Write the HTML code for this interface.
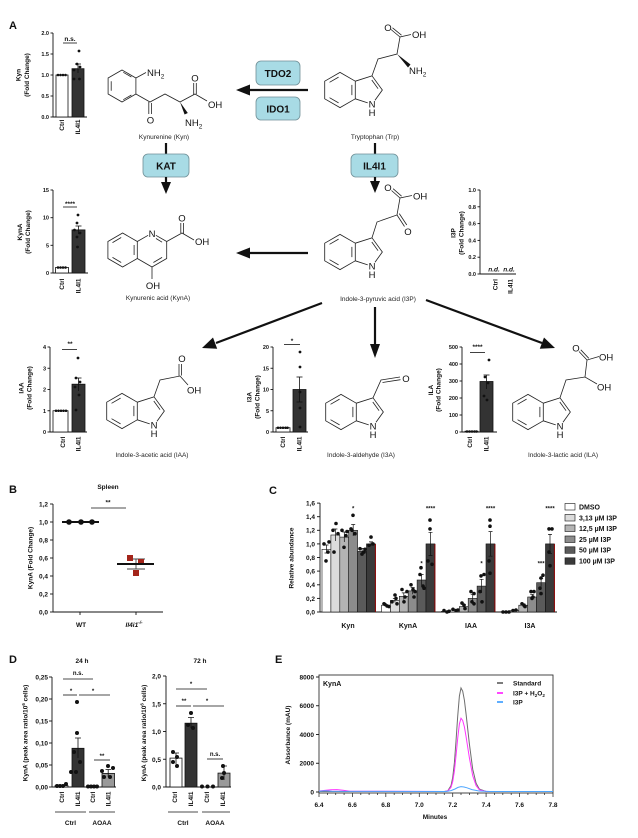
<!DOCTYPE html>
<html><head><meta charset="utf-8"><style>
html,body{margin:0;padding:0;background:#fff;}
svg{display:block;}
text{font-family:"Liberation Sans",Arial,sans-serif;fill:#111;}
.b{font-weight:bold;}
.ax{stroke:#111;stroke-width:0.9;fill:none;}
.tk{font-size:5.5px;font-weight:bold;text-anchor:end;}
.lab{font-size:6.5px;font-weight:bold;text-anchor:middle;}
.xl{font-size:6.5px;font-weight:bold;text-anchor:end;}
.atom{font-size:9.5px;text-anchor:middle;}
.cname{font-size:6.5px;text-anchor:middle;fill:#222;}
.enz{font-size:10px;font-weight:bold;text-anchor:middle;}
.box{fill:#a8dbe5;stroke:#708f96;stroke-width:0.8;}
.bd{stroke:#222;stroke-width:0.8;fill:none;}
.arr{stroke:#111;stroke-width:2.2;}
</style></head><body>
<svg width="638" height="838" viewBox="0 0 638 838" xmlns="http://www.w3.org/2000/svg">
<defs>
<g id="indole" fill="none" stroke="#222" stroke-width="0.75">
<path d="M13.9,-8 L0,-16 L-13.9,-8 L-13.9,8 L0,16 L13.9,8 Z M13.9,-8 L29.1,-12.9 L38.5,0 L31.8,9.3 M13.9,8 L25.2,11.7 M-1.3,-11.7 L-9.5,-7 M-9.5,7 L-1.3,11.7 M10.8,4.7 L10.8,-4.7 M28.9,-9.1 L34.6,-1.2"/>
</g>
</defs>

<!-- ============ PANEL A ============ -->
<text x="9" y="29" class="b" font-size="11">A</text>

<!-- Kyn chart -->
<g>
<line class="ax" x1="53" y1="33" x2="53" y2="117"/><line class="ax" x1="53" y1="117" x2="87" y2="117"/>
<g class="ax"><line x1="50.5" y1="33" x2="53" y2="33"/><line x1="50.5" y1="54" x2="53" y2="54"/><line x1="50.5" y1="75" x2="53" y2="75"/><line x1="50.5" y1="96" x2="53" y2="96"/><line x1="50.5" y1="117" x2="53" y2="117"/></g>
<text class="tk" x="49" y="35">2.0</text><text class="tk" x="49" y="56">1.5</text><text class="tk" x="49" y="77">1.0</text><text class="tk" x="49" y="98">0.5</text><text class="tk" x="49" y="119">0.0</text>
<rect x="56" y="75" width="12" height="42" fill="#fff" stroke="#111" stroke-width="0.8"/>
<rect x="72" y="68.7" width="12" height="48.3" fill="#333" stroke="#111" stroke-width="0.8"/>
<g stroke="#111" stroke-width="0.8"><line x1="78" y1="64" x2="78" y2="73"/><line x1="75" y1="64" x2="81" y2="64"/></g>
<g fill="#111"><circle cx="58" cy="75" r="1.3"/><circle cx="60.5" cy="75" r="1.3"/><circle cx="63" cy="75" r="1.3"/><circle cx="65.5" cy="75" r="1.3"/>
<circle cx="79" cy="51" r="1.4"/><circle cx="77" cy="64" r="1.4"/><circle cx="74" cy="70" r="1.4"/><circle cx="80" cy="67" r="1.4"/><circle cx="74" cy="79" r="1.4"/><circle cx="79.5" cy="79" r="1.4"/></g>
<text x="70" y="41" class="lab" font-size="5.5">n.s.</text><line x1="63" y1="43" x2="77" y2="43" stroke="#111" stroke-width="0.8"/>
<text transform="translate(20.5,75) rotate(-90)" class="lab">Kyn</text>
<text transform="translate(29,75) rotate(-90)" class="lab">(Fold Change)</text>
<text transform="translate(64,119.5) rotate(-90)" class="xl">Ctrl</text>
<text transform="translate(80,119.5) rotate(-90)" class="xl">IL4I1</text>
</g>

<!-- Kynurenine structure -->
<g class="bd">
<path d="M135.9,78 L122,70 L108.1,78 L108.1,94 L122,102 L135.9,94 Z"/>
<path d="M131.4,77 L123.3,72.3 M111.2,81.3 L111.2,90.7 M123.3,99.7 L131.4,95"/>
<path d="M135.9,78 L146,72.5"/>
<path d="M135.9,94 L150,102 L165,94 L180,102 L195,94 L207,101"/>
<path d="M148.8,102 L148.8,114 M151.4,103 L151.4,114"/>
<path d="M193.7,95 L193.7,83 M196.3,94 L196.3,83"/>
</g>
<polygon points="180,102 184.6,114.5 187.8,113" fill="#111"/>
<text class="atom" x="147" y="76" style="text-anchor:start">NH<tspan font-size="6.5" dy="2.5">2</tspan></text>
<text class="atom" x="150.5" y="123.5">O</text>
<text class="atom" x="195" y="81.5">O</text>
<text class="atom" x="208" y="108" style="text-anchor:start">OH</text>
<text class="atom" x="185" y="126" style="text-anchor:start">NH<tspan font-size="6.5" dy="2.5">2</tspan></text>
<text class="cname" x="164" y="139">Kynurenine (Kyn)</text>

<!-- Top arrow & enzymes -->
<line class="arr" x1="308" y1="90" x2="248" y2="90"/>
<polygon points="236,90 250,84.5 250,95.5" fill="#111"/>
<rect class="box" x="256" y="61" width="44" height="24" rx="5"/>
<text class="enz" x="278" y="77">TDO2</text>
<rect class="box" x="256" y="97" width="44" height="23" rx="5"/>
<text class="enz" x="278" y="112.5">IDO1</text>

<!-- Tryptophan -->
<use href="#indole" transform="translate(340,90) scale(1.1)"/>
<text class="atom" x="372" y="107.5">N</text><text class="atom" x="372" y="116">H</text>
<g class="bd">
<path d="M372,75.8 L378,59 L397,54 L400,37 L411,34.5"/>
<path d="M400,37 L391,29.5 M401.5,35.2 L392.5,27.8"/>
</g>
<polygon points="397,54 408,67.5 410.5,64.5" fill="#111"/>
<text class="atom" x="388" y="31">O</text>
<text class="atom" x="412" y="38" style="text-anchor:start">OH</text>
<text class="atom" x="409" y="74" style="text-anchor:start">NH<tspan font-size="6.5" dy="2.5">2</tspan></text>
<text class="cname" x="375" y="139">Tryptophan (Trp)</text>

<!-- vertical links -->
<line class="arr" x1="166" y1="143" x2="166" y2="154"/>
<line class="arr" x1="375" y1="143" x2="375" y2="154"/>
<rect class="box" x="143" y="154" width="46" height="23" rx="5"/>
<text class="enz" x="166" y="169.5">KAT</text>
<rect class="box" x="351" y="154" width="47" height="23" rx="5"/>
<text class="enz" x="374.5" y="169.5">IL4I1</text>
<line class="arr" x1="166" y1="177" x2="166" y2="184"/>
<polygon points="166,194 161,182 171,182" fill="#111"/>
<line class="arr" x1="375" y1="177" x2="375" y2="183"/>
<polygon points="375,193 370,181 380,181" fill="#111"/>

<!-- KynA chart -->
<g>
<line class="ax" x1="53" y1="190" x2="53" y2="273"/><line class="ax" x1="53" y1="273" x2="88" y2="273"/>
<g class="ax"><line x1="50.5" y1="190" x2="53" y2="190"/><line x1="50.5" y1="217.7" x2="53" y2="217.7"/><line x1="50.5" y1="245.3" x2="53" y2="245.3"/><line x1="50.5" y1="273" x2="53" y2="273"/></g>
<text class="tk" x="49" y="192">15</text><text class="tk" x="49" y="219.7">10</text><text class="tk" x="49" y="247.3">5</text><text class="tk" x="49" y="275">0</text>
<rect x="55.5" y="267.5" width="13" height="5.5" fill="#fff" stroke="#111" stroke-width="0.8"/>
<rect x="72" y="229.9" width="13" height="43.1" fill="#333" stroke="#111" stroke-width="0.8"/>
<g stroke="#111" stroke-width="0.8"><line x1="78.5" y1="226" x2="78.5" y2="234"/><line x1="75.5" y1="226" x2="81.5" y2="226"/></g>
<g fill="#111"><circle cx="58" cy="267.5" r="1.3"/><circle cx="60.5" cy="267.5" r="1.3"/><circle cx="63" cy="267.5" r="1.3"/><circle cx="65.5" cy="267.5" r="1.3"/>
<circle cx="78" cy="215" r="1.4"/><circle cx="77" cy="223" r="1.4"/><circle cx="74.5" cy="230" r="1.4"/><circle cx="80" cy="233" r="1.4"/><circle cx="77" cy="237" r="1.4"/><circle cx="77.5" cy="247" r="1.4"/></g>
<text x="70" y="206" class="lab" font-size="5.5">****</text><line x1="63" y1="207" x2="77" y2="207" stroke="#111" stroke-width="0.8"/>
<text transform="translate(22,232) rotate(-90)" class="lab">KynA</text>
<text transform="translate(30,232) rotate(-90)" class="lab">(Fold Change)</text>
<text transform="translate(64,278.5) rotate(-90)" class="xl">Ctrl</text>
<text transform="translate(80.5,278.5) rotate(-90)" class="xl">IL4I1</text>
</g>

<!-- Kynurenic acid structure -->
<g class="bd">
<path d="M137.3,241.5 L122.6,233 L107.9,241.5 L107.9,258.5 L122.6,267 L137.3,258.5 Z"/>
<path d="M137.3,258.5 L152,267 L166.7,258.5 L166.7,241.5 L155.9,235.3 M137.3,241.5 L148.1,235.3"/>
<path d="M112.5,242.6 L121.2,237.5 M112.5,257.4 L121.2,262.5 M134.1,255 L134.1,245 M156,238.5 L162.1,242.2 M162.1,257.4 L153.4,262.5"/>
<path d="M166.7,241.5 L182,233 L194,240"/>
<path d="M180.8,233 L180.8,223 M183.4,234 L183.4,223"/>
<path d="M152,267 L152,279"/>
</g>
<text class="atom" x="152" y="237">N</text>
<text class="atom" x="182" y="221.5">O</text>
<text class="atom" x="195" y="245" style="text-anchor:start">OH</text>
<text class="atom" x="153" y="289">OH</text>
<text class="cname" x="158" y="300">Kynurenic acid (KynA)</text>

<line class="arr" x1="308" y1="253" x2="248" y2="253"/>
<polygon points="236,253 250,247.5 250,258.5" fill="#111"/>

<!-- I3P structure -->
<use href="#indole" transform="translate(340,252) scale(1.1)"/>
<text class="atom" x="372" y="269.5">N</text><text class="atom" x="372" y="278">H</text>
<g class="bd">
<path d="M372,237.8 L377,222 L397,215 L400,198 L412,195.5"/>
<path d="M397,215 L404.5,226.5 M399.3,213.6 L406.8,225"/>
<path d="M400,198 L391.5,190.5 M401.6,196.2 L393.1,188.7"/>
</g>
<text class="atom" x="408" y="235">O</text>
<text class="atom" x="388" y="191">O</text>
<text class="atom" x="413" y="199.5" style="text-anchor:start">OH</text>
<text class="cname" x="378" y="301">Indole-3-pyruvic acid (I3P)</text>

<!-- I3P chart -->
<g>
<line class="ax" x1="480" y1="190" x2="480" y2="274"/><line class="ax" x1="480" y1="274" x2="516" y2="274"/>
<g class="ax"><line x1="477.5" y1="190" x2="480" y2="190"/><line x1="477.5" y1="206.8" x2="480" y2="206.8"/><line x1="477.5" y1="223.6" x2="480" y2="223.6"/><line x1="477.5" y1="240.4" x2="480" y2="240.4"/><line x1="477.5" y1="257.2" x2="480" y2="257.2"/><line x1="477.5" y1="274" x2="480" y2="274"/></g>
<text class="tk" x="476" y="192">1.0</text><text class="tk" x="476" y="208.8">0.8</text><text class="tk" x="476" y="225.6">0.6</text><text class="tk" x="476" y="242.4">0.4</text><text class="tk" x="476" y="259.2">0.2</text><text class="tk" x="476" y="276">0.0</text>
<text x="494" y="271.5" class="lab" font-size="5" font-style="italic">n.d.</text>
<text x="509" y="271.5" class="lab" font-size="5" font-style="italic">n.d.</text>
<text transform="translate(455.5,233) rotate(-90)" class="lab">I3P</text>
<text transform="translate(463.5,233) rotate(-90)" class="lab">(Fold Change)</text>
<text transform="translate(497.5,279) rotate(-90)" class="xl">Ctrl</text>
<text transform="translate(512.5,279) rotate(-90)" class="xl">IL4I1</text>
</g>

<!-- Bottom arrows -->
<line class="arr" x1="322" y1="303" x2="216" y2="343"/>
<polygon points="202,348 217.2,348.7 213,337.5" fill="#111"/>
<line class="arr" x1="375" y1="307" x2="375" y2="345"/>
<polygon points="375,358 370,344 380,344" fill="#111"/>
<line class="arr" x1="426" y1="300" x2="542" y2="343"/>
<polygon points="555,348 539.8,348.7 544,337.5" fill="#111"/>

<!-- IAA chart -->
<g>
<line class="ax" x1="50" y1="347" x2="50" y2="432"/><line class="ax" x1="50" y1="432" x2="87" y2="432"/>
<g class="ax"><line x1="47.5" y1="347" x2="50" y2="347"/><line x1="47.5" y1="368.25" x2="50" y2="368.25"/><line x1="47.5" y1="389.5" x2="50" y2="389.5"/><line x1="47.5" y1="410.75" x2="50" y2="410.75"/><line x1="47.5" y1="432" x2="50" y2="432"/></g>
<text class="tk" x="46" y="349">4</text><text class="tk" x="46" y="370.25">3</text><text class="tk" x="46" y="391.5">2</text><text class="tk" x="46" y="412.75">1</text><text class="tk" x="46" y="434">0</text>
<rect x="53" y="410.75" width="15" height="21.25" fill="#fff" stroke="#111" stroke-width="0.8"/>
<rect x="72" y="384.2" width="13" height="47.8" fill="#333" stroke="#111" stroke-width="0.8"/>
<g stroke="#111" stroke-width="0.8"><line x1="78.5" y1="378" x2="78.5" y2="391"/><line x1="75.5" y1="378" x2="81.5" y2="378"/></g>
<g fill="#111"><circle cx="56" cy="410.75" r="1.3"/><circle cx="58.5" cy="410.75" r="1.3"/><circle cx="61" cy="410.75" r="1.3"/><circle cx="63.5" cy="410.75" r="1.3"/><circle cx="66" cy="410.75" r="1.3"/>
<circle cx="78" cy="358" r="1.4"/><circle cx="76" cy="378" r="1.4"/><circle cx="80" cy="382" r="1.4"/><circle cx="75" cy="387" r="1.4"/><circle cx="79" cy="395" r="1.4"/><circle cx="76" cy="410" r="1.4"/></g>
<text x="70" y="346" class="lab" font-size="5.5">**</text><line x1="62" y1="349.5" x2="77" y2="349.5" stroke="#111" stroke-width="0.8"/>
<text transform="translate(23.5,388) rotate(-90)" class="lab">IAA</text>
<text transform="translate(31.5,388) rotate(-90)" class="lab">(Fold Change)</text>
<text transform="translate(65,436.5) rotate(-90)" class="xl">Ctrl</text>
<text transform="translate(80.5,436.5) rotate(-90)" class="xl">IL4I1</text>
</g>

<!-- IAA structure -->
<use href="#indole" transform="translate(122,411) scale(1.1)"/>
<text class="atom" x="154" y="428.5">N</text><text class="atom" x="154" y="437">H</text>
<g class="bd">
<path d="M154,396.8 L160,380 L180,376 L188,385"/>
<path d="M179,376 L179,364 M181.6,375.5 L181.6,364"/>
</g>
<text class="atom" x="182" y="362">O</text>
<text class="atom" x="187" y="393.5" style="text-anchor:start">OH</text>
<text class="cname" x="152" y="457">Indole-3-acetic acid (IAA)</text>

<!-- I3A chart -->
<g>
<line class="ax" x1="273" y1="347" x2="273" y2="432"/><line class="ax" x1="273" y1="432" x2="308" y2="432"/>
<g class="ax"><line x1="270.5" y1="347" x2="273" y2="347"/><line x1="270.5" y1="368.25" x2="273" y2="368.25"/><line x1="270.5" y1="389.5" x2="273" y2="389.5"/><line x1="270.5" y1="410.75" x2="273" y2="410.75"/><line x1="270.5" y1="432" x2="273" y2="432"/></g>
<text class="tk" x="269" y="349">20</text><text class="tk" x="269" y="370.25">15</text><text class="tk" x="269" y="391.5">10</text><text class="tk" x="269" y="412.75">5</text><text class="tk" x="269" y="434">0</text>
<rect x="276" y="427.75" width="14" height="4.25" fill="#fff" stroke="#111" stroke-width="0.8"/>
<rect x="293" y="389.5" width="13" height="42.5" fill="#333" stroke="#111" stroke-width="0.8"/>
<g stroke="#111" stroke-width="0.8"><line x1="299.5" y1="377" x2="299.5" y2="402"/><line x1="296.5" y1="377" x2="302.5" y2="377"/><line x1="296.5" y1="402" x2="302.5" y2="402"/></g>
<g fill="#111"><circle cx="278" cy="427.75" r="1.3"/><circle cx="280.5" cy="427.75" r="1.3"/><circle cx="283" cy="427.75" r="1.3"/><circle cx="285.5" cy="427.75" r="1.3"/><circle cx="287.5" cy="427.75" r="1.3"/>
<circle cx="300" cy="352" r="1.4"/><circle cx="300" cy="367" r="1.4"/><circle cx="300" cy="392" r="1.4"/><circle cx="300" cy="408" r="1.4"/><circle cx="300" cy="427" r="1.4"/></g>
<text x="292" y="343" class="lab" font-size="5.5">*</text><line x1="284" y1="344.5" x2="300" y2="344.5" stroke="#111" stroke-width="0.8"/>
<text transform="translate(251.5,397) rotate(-90)" class="lab">I3A</text>
<text transform="translate(259.5,397) rotate(-90)" class="lab">(Fold Change)</text>
<text transform="translate(285,436.5) rotate(-90)" class="xl">Ctrl</text>
<text transform="translate(301.5,436.5) rotate(-90)" class="xl">IL4I1</text>
</g>

<!-- I3A structure -->
<use href="#indole" transform="translate(341,412) scale(1.1)"/>
<text class="atom" x="373" y="429.5">N</text><text class="atom" x="373" y="438">H</text>
<g class="bd">
<path d="M373,397.8 L381,380 L400,377"/>
<path d="M382.5,382.5 L400.5,379.7"/>
</g>
<text class="atom" x="406" y="382">O</text>
<text class="cname" x="361" y="457">Indole-3-aldehyde (I3A)</text>

<!-- ILA chart -->
<g>
<line class="ax" x1="462" y1="347" x2="462" y2="432"/><line class="ax" x1="462" y1="432" x2="497" y2="432"/>
<g class="ax"><line x1="459.5" y1="347" x2="462" y2="347"/><line x1="459.5" y1="364" x2="462" y2="364"/><line x1="459.5" y1="381" x2="462" y2="381"/><line x1="459.5" y1="398" x2="462" y2="398"/><line x1="459.5" y1="415" x2="462" y2="415"/><line x1="459.5" y1="432" x2="462" y2="432"/></g>
<text class="tk" x="458" y="349">500</text><text class="tk" x="458" y="366">400</text><text class="tk" x="458" y="383">300</text><text class="tk" x="458" y="400">200</text><text class="tk" x="458" y="417">100</text><text class="tk" x="458" y="434">0</text>
<rect x="465" y="431.2" width="13" height="0.8" fill="#fff" stroke="#111" stroke-width="0.8"/>
<rect x="480" y="381.5" width="13" height="50.5" fill="#333" stroke="#111" stroke-width="0.8"/>
<g stroke="#111" stroke-width="0.8"><line x1="486.5" y1="375" x2="486.5" y2="389"/><line x1="483.5" y1="375" x2="489.5" y2="375"/></g>
<g fill="#111"><circle cx="467" cy="431.5" r="1.3"/><circle cx="469.5" cy="431.5" r="1.3"/><circle cx="472" cy="431.5" r="1.3"/><circle cx="474.5" cy="431.5" r="1.3"/><circle cx="476.5" cy="431.5" r="1.3"/>
<circle cx="489" cy="360" r="1.4"/><circle cx="485" cy="377" r="1.4"/><circle cx="488" cy="383" r="1.4"/><circle cx="484" cy="396" r="1.4"/><circle cx="487" cy="400" r="1.4"/></g>
<text x="477.5" y="349" class="lab" font-size="5.5">****</text><line x1="470" y1="352.5" x2="485" y2="352.5" stroke="#111" stroke-width="0.8"/>
<text transform="translate(433,390) rotate(-90)" class="lab">ILA</text>
<text transform="translate(440.5,390) rotate(-90)" class="lab">(Fold Change)</text>
<text transform="translate(472,436.5) rotate(-90)" class="xl">Ctrl</text>
<text transform="translate(488.5,436.5) rotate(-90)" class="xl">IL4I1</text>
</g>

<!-- ILA structure -->
<use href="#indole" transform="translate(528,412) scale(1.1)"/>
<text class="atom" x="560" y="429.5">N</text><text class="atom" x="560" y="438">H</text>
<g class="bd">
<path d="M560,397.8 L566,380 L585,377 L597,384 M585,377 L587,360 L599,356.5"/>
<path d="M587,360 L579,351.5 M588.8,358.3 L580.8,349.8"/>
</g>
<text class="atom" x="576" y="351.5">O</text>
<text class="atom" x="599" y="360.5" style="text-anchor:start">OH</text>
<text class="atom" x="597" y="390.5" style="text-anchor:start">OH</text>
<text class="cname" x="563" y="457">Indole-3-lactic acid (ILA)</text>

<!-- ============ PANEL B ============ -->
<text x="9" y="493" class="b" font-size="11">B</text>
<text x="108" y="489" class="lab" font-size="7">Spleen</text>
<g>
<line class="ax" x1="53" y1="504" x2="53" y2="612"/><line class="ax" x1="53" y1="612" x2="163" y2="612"/>
<g class="ax"><line x1="50" y1="504" x2="53" y2="504"/><line x1="50" y1="522" x2="53" y2="522"/><line x1="50" y1="540" x2="53" y2="540"/><line x1="50" y1="558" x2="53" y2="558"/><line x1="50" y1="576" x2="53" y2="576"/><line x1="50" y1="594" x2="53" y2="594"/><line x1="50" y1="612" x2="53" y2="612"/>
<line x1="80" y1="612" x2="80" y2="615"/><line x1="136" y1="612" x2="136" y2="615"/></g>
<g class="tk" style="font-size:6.5px"><text x="48" y="506.5">1,2</text><text x="48" y="524.5">1,0</text><text x="48" y="542.5">0,8</text><text x="48" y="560.5">0,6</text><text x="48" y="578.5">0,4</text><text x="48" y="596.5">0,2</text><text x="48" y="614.5">0,0</text></g>
<line x1="62" y1="522" x2="99" y2="522" stroke="#111" stroke-width="2"/>
<g fill="#111"><circle cx="69" cy="522" r="2.8"/><circle cx="81" cy="522" r="2.8"/><circle cx="92" cy="522" r="2.8"/></g>
<g stroke="#444" stroke-width="0.9"><line x1="136" y1="559" x2="136" y2="569"/><line x1="127" y1="559" x2="145" y2="559"/><line x1="127" y1="569" x2="145" y2="569"/></g>
<g fill="#a3241a"><rect x="127" y="555" width="6" height="6"/><rect x="138" y="559" width="6" height="6"/><rect x="133" y="570" width="6" height="6"/></g>
<line x1="117" y1="564" x2="154" y2="564" stroke="#111" stroke-width="2"/>
<line x1="91" y1="508" x2="126" y2="508" stroke="#888" stroke-width="1.5"/>
<text x="108" y="504.5" class="lab" font-size="6">**</text>
<text transform="translate(32.5,558) rotate(-90)" class="lab" font-size="6.5">KynA (Fold Change)</text>
<text x="81" y="627" class="lab" font-size="7">WT</text>
<text x="134" y="627" class="lab" font-size="7" font-style="italic">Il4i1<tspan font-size="4.5" dy="-3">-/-</tspan></text>
</g>

<!-- ============ PANEL C ============ -->
<text x="269" y="494" class="b" font-size="11">C</text>
<g>
<line class="ax" x1="320" y1="503" x2="320" y2="612"/><line class="ax" x1="320" y1="612" x2="557" y2="612"/>
<g class="ax"><line x1="317" y1="503.1" x2="320" y2="503.1"/><line x1="317" y1="516.7" x2="320" y2="516.7"/><line x1="317" y1="530.3" x2="320" y2="530.3"/><line x1="317" y1="543.9" x2="320" y2="543.9"/><line x1="317" y1="557.5" x2="320" y2="557.5"/><line x1="317" y1="571.1" x2="320" y2="571.1"/><line x1="317" y1="584.8" x2="320" y2="584.8"/><line x1="317" y1="598.4" x2="320" y2="598.4"/><line x1="317" y1="612" x2="320" y2="612"/></g>
<g class="tk" style="font-size:6.5px"><text x="315" y="505.5">1,6</text><text x="315" y="519.1">1,4</text><text x="315" y="532.7">1,2</text><text x="315" y="546.3">1,0</text><text x="315" y="559.9">0,8</text><text x="315" y="573.5">0,6</text><text x="315" y="587.2">0,4</text><text x="315" y="600.8">0,2</text><text x="315" y="614.4">0,0</text></g>
<text transform="translate(293.5,558) rotate(-90)" class="lab" font-size="6.5">Relative abundance</text>
<g stroke="#111" stroke-width="0.6">
<rect x="322" y="549.3" width="8.9" height="62.7" fill="#fff"/>
<rect x="330.9" y="535" width="8.9" height="77" fill="#dcdcdc"/>
<rect x="339.8" y="537.1" width="8.9" height="74.9" fill="#b4b4b4"/>
<rect x="348.7" y="530.3" width="8.9" height="81.7" fill="#8c8c8c"/>
<rect x="357.6" y="551.4" width="8.9" height="60.6" fill="#5a5a5a"/>
<rect x="366.5" y="543.9" width="8.9" height="68.1" fill="#3a3a3a"/>
<rect x="381.5" y="605.2" width="8.9" height="6.8" fill="#fff"/>
<rect x="390.4" y="600.4" width="8.9" height="11.6" fill="#dcdcdc"/>
<rect x="399.3" y="596.3" width="8.9" height="15.7" fill="#b4b4b4"/>
<rect x="408.2" y="590.9" width="8.9" height="21.1" fill="#8c8c8c"/>
<rect x="417.1" y="580" width="8.9" height="32" fill="#5a5a5a"/>
<rect x="426" y="543.9" width="8.9" height="68.1" fill="#3a3a3a"/>
<rect x="441.5" y="611.3" width="8.9" height="0.7" fill="#fff"/>
<rect x="450.4" y="610" width="8.9" height="2" fill="#dcdcdc"/>
<rect x="459.3" y="606.6" width="8.9" height="5.4" fill="#b4b4b4"/>
<rect x="468.2" y="598.4" width="8.9" height="13.6" fill="#8c8c8c"/>
<rect x="477.1" y="586.1" width="8.9" height="25.9" fill="#5a5a5a"/>
<rect x="486" y="543.9" width="8.9" height="68.1" fill="#3a3a3a"/>
<rect x="501" y="611.7" width="8.9" height="0.3" fill="#fff"/>
<rect x="509.9" y="610.6" width="8.9" height="1.4" fill="#dcdcdc"/>
<rect x="518.8" y="605.2" width="8.9" height="6.8" fill="#b4b4b4"/>
<rect x="527.7" y="597" width="8.9" height="15" fill="#8c8c8c"/>
<rect x="536.6" y="582.7" width="8.9" height="29.3" fill="#5a5a5a"/>
<rect x="545.5" y="543.9" width="8.9" height="68.1" fill="#3a3a3a"/>
</g>
<g stroke="#8b0000" stroke-width="1"><line x1="375.4" y1="544" x2="375.4" y2="612"/><line x1="434.9" y1="544" x2="434.9" y2="612"/><line x1="494.9" y1="544" x2="494.9" y2="612"/><line x1="554.4" y1="544" x2="554.4" y2="612"/></g>
<g stroke="#111" stroke-width="0.7">
<path d="M326.5,545 V553 M324.5,545 H328.5 M324.5,553 H328.5 M335.4,529 V541 M333.4,529 H337.4 M344.3,532 V542 M342.3,532 H346.3 M353.2,524.5 V536 M351.2,524.5 H355.2 M362.1,548.5 V554.5 M360.1,548.5 H364.1 M371,541.9 V546 M369,541.9 H373"/>
<path d="M394.9,598.4 V602.4 M392.9,598.4 H396.9 M403.8,592.9 V599.7 M401.8,592.9 H405.8 M412.7,587.5 V594.3 M410.7,587.5 H414.7 M421.6,574.6 V585.4 M419.6,574.6 H423.6 M430.5,532.3 V555.5 M428.5,532.3 H432.5 M428.5,555.5 H432.5"/>
<path d="M463.8,604.6 V608.6 M461.8,604.6 H465.8 M472.7,594.3 V602.5 M470.7,594.3 H474.7 M481.6,579.3 V592.9 M479.6,579.3 H483.6 M490.5,531.6 V556.2 M488.5,531.6 H492.5 M488.5,556.2 H492.5"/>
<path d="M523.3,603.8 V606.6 M521.3,603.8 H525.3 M532.2,594.3 V599.7 M530.2,594.3 H534.2 M541.1,578.6 V586.8 M539.1,578.6 H543.1 M550,534.4 V553.4 M548,534.4 H552 M548,553.4 H552"/>
</g>
<g fill="#111">
<circle cx="324" cy="543.9" r="1.8"/><circle cx="328" cy="552.1" r="1.8"/><circle cx="326" cy="560.9" r="1.8"/><circle cx="329" cy="541.9" r="1.8"/>
<circle cx="336" cy="523.5" r="1.8"/><circle cx="333" cy="530.3" r="1.8"/><circle cx="334" cy="552.1" r="1.8"/><circle cx="338" cy="533.7" r="1.8"/>
<circle cx="342" cy="530.3" r="1.8"/><circle cx="346" cy="535.7" r="1.8"/><circle cx="344" cy="547.3" r="1.8"/><circle cx="347" cy="531.6" r="1.8"/>
<circle cx="353" cy="515.3" r="1.8"/><circle cx="351" cy="528.9" r="1.8"/><circle cx="355" cy="533.7" r="1.8"/><circle cx="352" cy="530.3" r="1.8"/>
<circle cx="360" cy="548.7" r="1.8"/><circle cx="364" cy="552.1" r="1.8"/><circle cx="362" cy="554.1" r="1.8"/><circle cx="365" cy="549.3" r="1.8"/>
<circle cx="371" cy="537.1" r="1.8"/><circle cx="369" cy="545.3" r="1.8"/><circle cx="373" cy="543.9" r="1.8"/>
<circle cx="384" cy="603.8" r="1.8"/><circle cx="387" cy="605.9" r="1.8"/><circle cx="389" cy="606.6" r="1.8"/><circle cx="385" cy="604.5" r="1.8"/>
<circle cx="395" cy="595" r="1.8"/><circle cx="392" cy="601.8" r="1.8"/><circle cx="397" cy="603.8" r="1.8"/><circle cx="396" cy="598.4" r="1.8"/>
<circle cx="402" cy="589.5" r="1.8"/><circle cx="405" cy="597" r="1.8"/><circle cx="404" cy="601.8" r="1.8"/><circle cx="407" cy="591.6" r="1.8"/>
<circle cx="411" cy="584.8" r="1.8"/><circle cx="413" cy="589.5" r="1.8"/><circle cx="414" cy="597" r="1.8"/><circle cx="415" cy="591.6" r="1.8"/>
<circle cx="421" cy="567.7" r="1.8"/><circle cx="420" cy="574.5" r="1.8"/><circle cx="423" cy="586.1" r="1.8"/><circle cx="424" cy="588.2" r="1.8"/>
<circle cx="430" cy="520.1" r="1.8"/><circle cx="430" cy="528.9" r="1.8"/><circle cx="428" cy="560.9" r="1.8"/><circle cx="432" cy="564.3" r="1.8"/>
<circle cx="444" cy="610.6" r="1.8"/><circle cx="447" cy="612" r="1.8"/><circle cx="449" cy="611.3" r="1.8"/>
<circle cx="453" cy="609.3" r="1.8"/><circle cx="456" cy="610.6" r="1.8"/><circle cx="458" cy="610" r="1.8"/>
<circle cx="462" cy="603.1" r="1.8"/><circle cx="465" cy="608.6" r="1.8"/><circle cx="464" cy="605.2" r="1.8"/>
<circle cx="471" cy="591.6" r="1.8"/><circle cx="474" cy="593.6" r="1.8"/><circle cx="472" cy="601.8" r="1.8"/><circle cx="474" cy="603.8" r="1.8"/>
<circle cx="481" cy="575.9" r="1.8"/><circle cx="484" cy="574.5" r="1.8"/><circle cx="480" cy="591.6" r="1.8"/><circle cx="482" cy="601.8" r="1.8"/>
<circle cx="490" cy="520.1" r="1.8"/><circle cx="490" cy="526.2" r="1.8"/><circle cx="489" cy="560.9" r="1.8"/><circle cx="490" cy="573.2" r="1.8"/>
<circle cx="503" cy="612" r="1.8"/><circle cx="506" cy="612" r="1.8"/><circle cx="509" cy="612" r="1.8"/>
<circle cx="513" cy="610.6" r="1.8"/><circle cx="516" cy="610" r="1.8"/>
<circle cx="522" cy="603.8" r="1.8"/><circle cx="524" cy="605.2" r="1.8"/><circle cx="525" cy="606.6" r="1.8"/>
<circle cx="531" cy="591.6" r="1.8"/><circle cx="534" cy="591.6" r="1.8"/><circle cx="532" cy="598.4" r="1.8"/><circle cx="533" cy="597" r="1.8"/>
<circle cx="541" cy="578" r="1.8"/><circle cx="543" cy="575.2" r="1.8"/><circle cx="540" cy="588.2" r="1.8"/><circle cx="541" cy="593.6" r="1.8"/>
<circle cx="549" cy="528.9" r="1.8"/><circle cx="552" cy="528.9" r="1.8"/><circle cx="549" cy="552.1" r="1.8"/><circle cx="550" cy="565.7" r="1.8"/>
</g>
<g class="lab" style="font-size:6px">
<text x="353.2" y="510.5">*</text><text x="430.5" y="510.5">****</text><text x="421.6" y="565.5">*</text>
<text x="490.5" y="510.5">****</text><text x="481.6" y="565.5">*</text>
<text x="550" y="510.5">****</text><text x="541.1" y="565.5">***</text>
</g>
<g class="lab" style="font-size:7px"><text x="348" y="628">Kyn</text><text x="408" y="628">KynA</text><text x="471" y="628">IAA</text><text x="530" y="628">I3A</text></g>
<g stroke="#111" stroke-width="0.6">
<rect x="565" y="503.5" width="10" height="6.5" fill="#fff"/>
<rect x="565" y="514.5" width="10" height="6.5" fill="#dcdcdc"/>
<rect x="565" y="525" width="10" height="6.5" fill="#b4b4b4"/>
<rect x="565" y="536" width="10" height="6.5" fill="#8c8c8c"/>
<rect x="565" y="546.8" width="10" height="6.5" fill="#5a5a5a"/>
<rect x="565" y="557.8" width="10" height="6.5" fill="#3a3a3a"/>
</g>
<g class="b" font-size="7"><text x="579" y="509.3">DMSO</text><text x="579" y="520.3">3,13 µM I3P</text><text x="579" y="530.8">12,5 µM I3P</text><text x="579" y="541.8">25 µM I3P</text><text x="579" y="552.6">50 µM I3P</text><text x="579" y="563.6">100 µM I3P</text></g>
</g>

<!-- ============ PANEL D ============ -->
<text x="9" y="663" class="b" font-size="11">D</text>
<text x="82" y="663" class="lab" font-size="7">24 h</text>
<text x="200" y="663" class="lab" font-size="7">72 h</text>
<g>
<line class="ax" x1="52" y1="677" x2="52" y2="787"/><line class="ax" x1="52" y1="787" x2="116" y2="787"/>
<g class="ax"><line x1="49" y1="677" x2="52" y2="677"/><line x1="49" y1="699" x2="52" y2="699"/><line x1="49" y1="721" x2="52" y2="721"/><line x1="49" y1="743" x2="52" y2="743"/><line x1="49" y1="765" x2="52" y2="765"/><line x1="49" y1="787" x2="52" y2="787"/></g>
<g class="tk" style="font-size:6.5px"><text x="48" y="679.5">0,25</text><text x="48" y="701.5">0,20</text><text x="48" y="723.5">0,15</text><text x="48" y="745.5">0,10</text><text x="48" y="767.5">0,05</text><text x="48" y="789.5">0,00</text></g>
<rect x="55" y="785.7" width="13" height="1.3" fill="#fff" stroke="#111" stroke-width="0.8"/>
<rect x="72" y="748.3" width="12" height="38.7" fill="#333" stroke="#111" stroke-width="0.8"/>
<rect x="102" y="773.4" width="12.5" height="13.6" fill="#999" stroke="#111" stroke-width="0.8"/>
<g stroke="#111" stroke-width="0.8"><path d="M78,738 V758 M75,738 H81 M108.2,769.5 V777 M105.5,769.5 H111"/></g>
<g fill="#111">
<circle cx="57" cy="786" r="2"/><circle cx="60" cy="786" r="2"/><circle cx="63" cy="786" r="2"/><circle cx="66" cy="784" r="2"/>
<circle cx="77" cy="702" r="2"/><circle cx="77" cy="733" r="2"/><circle cx="74" cy="752" r="2"/><circle cx="80" cy="762" r="2"/><circle cx="76" cy="772" r="2"/><circle cx="71" cy="772" r="2"/>
<circle cx="88" cy="786.5" r="2"/><circle cx="91" cy="786.5" r="2"/><circle cx="94" cy="786.5" r="2"/><circle cx="97" cy="786.5" r="2"/>
<circle cx="108" cy="766" r="2"/><circle cx="113" cy="768" r="2"/><circle cx="102" cy="771" r="2"/><circle cx="110" cy="777" r="2"/><circle cx="104" cy="777" r="2"/>
</g>
<g stroke="#111" stroke-width="0.8"><line x1="63" y1="679" x2="93" y2="679"/><line x1="63" y1="695" x2="77" y2="695"/><line x1="79" y1="695" x2="110" y2="695"/><line x1="94" y1="760" x2="110" y2="760"/></g>
<g class="lab" style="font-size:6px"><text x="78" y="675">n.s.</text><text x="71" y="693">*</text><text x="93" y="693">*</text><text x="102" y="758">**</text></g>
<text transform="translate(27.5,733) rotate(-90)" class="lab" font-size="6.5">KynA (peak area ratio/10<tspan font-size="4.5" dy="-2.5">6</tspan><tspan dy="2.5"> cells)</tspan></text>
<text transform="translate(64,791.5) rotate(-90)" class="xl">Ctrl</text>
<text transform="translate(80,791.5) rotate(-90)" class="xl">IL4I1</text>
<text transform="translate(95,791.5) rotate(-90)" class="xl">Ctrl</text>
<text transform="translate(110.5,791.5) rotate(-90)" class="xl">IL4I1</text>
<g stroke="#111" stroke-width="0.8"><line x1="55" y1="812" x2="86" y2="812"/><line x1="89" y1="812" x2="115" y2="812"/></g>
<text x="70.5" y="825" class="lab" font-size="6.5">Ctrl</text><text x="102" y="825" class="lab" font-size="6.5">AOAA</text>
</g>
<g>
<line class="ax" x1="166" y1="676" x2="166" y2="787"/><line class="ax" x1="166" y1="787" x2="231" y2="787"/>
<g class="ax"><line x1="163" y1="676" x2="166" y2="676"/><line x1="163" y1="703.75" x2="166" y2="703.75"/><line x1="163" y1="731.5" x2="166" y2="731.5"/><line x1="163" y1="759.25" x2="166" y2="759.25"/><line x1="163" y1="787" x2="166" y2="787"/></g>
<g class="tk" style="font-size:6.5px"><text x="161" y="678.5">2,0</text><text x="161" y="706.3">1,5</text><text x="161" y="734">1,0</text><text x="161" y="761.8">0,5</text><text x="161" y="789.5">0,0</text></g>
<rect x="170" y="758.1" width="12" height="28.9" fill="#fff" stroke="#111" stroke-width="0.8"/>
<rect x="185" y="723.2" width="12" height="63.8" fill="#333" stroke="#111" stroke-width="0.8"/>
<rect x="218" y="773.1" width="12" height="13.9" fill="#999" stroke="#111" stroke-width="0.8"/>
<g stroke="#111" stroke-width="0.8"><path d="M176,753 V764 M173,753 H179 M191,717.5 V728 M188,717.5 H194 M224,766 V780 M221,766 H227"/></g>
<g fill="#111">
<circle cx="173" cy="752" r="2"/><circle cx="177" cy="757" r="2"/><circle cx="173" cy="762" r="2"/><circle cx="177" cy="766" r="2"/>
<circle cx="191" cy="713" r="2"/><circle cx="188" cy="725" r="2"/><circle cx="193" cy="728" r="2"/>
<circle cx="202" cy="786.5" r="2"/><circle cx="207.5" cy="786.5" r="2"/><circle cx="213" cy="786.5" r="2"/>
<circle cx="223" cy="766" r="2"/><circle cx="224" cy="773" r="2"/><circle cx="222" cy="778" r="2"/>
</g>
<g stroke="#111" stroke-width="0.8"><line x1="176" y1="689" x2="207" y2="689"/><line x1="176" y1="706" x2="191" y2="706"/><line x1="193" y1="706" x2="224" y2="706"/><line x1="207" y1="759" x2="223" y2="759"/></g>
<g class="lab" style="font-size:6px"><text x="191" y="686">*</text><text x="184" y="703">**</text><text x="207" y="703">*</text><text x="215" y="756">n.s.</text></g>
<text transform="translate(146,733) rotate(-90)" class="lab" font-size="6.5">KynA (peak area ratio/10<tspan font-size="4.5" dy="-2.5">6</tspan><tspan dy="2.5"> cells)</tspan></text>
<text transform="translate(177,791.5) rotate(-90)" class="xl">Ctrl</text>
<text transform="translate(193,791.5) rotate(-90)" class="xl">IL4I1</text>
<text transform="translate(209,791.5) rotate(-90)" class="xl">Ctrl</text>
<text transform="translate(225,791.5) rotate(-90)" class="xl">IL4I1</text>
<g stroke="#111" stroke-width="0.8"><line x1="168" y1="812" x2="198" y2="812"/><line x1="202" y1="812" x2="230" y2="812"/></g>
<text x="183" y="825" class="lab" font-size="6.5">Ctrl</text><text x="215" y="825" class="lab" font-size="6.5">AOAA</text>
</g>

<!-- ============ PANEL E ============ -->
<text x="275" y="663" class="b" font-size="11">E</text>
<g>
<rect x="319" y="675" width="234" height="118" fill="none" stroke="#333" stroke-width="0.9"/>
<g class="ax"><line x1="316" y1="677" x2="319" y2="677"/><line x1="316" y1="705.75" x2="319" y2="705.75"/><line x1="316" y1="734.5" x2="319" y2="734.5"/><line x1="316" y1="763.25" x2="319" y2="763.25"/><line x1="316" y1="792" x2="319" y2="792"/></g>
<g class="tk" style="font-size:6.5px"><text x="314" y="679.3">8000</text><text x="314" y="708">6000</text><text x="314" y="736.8">4000</text><text x="314" y="765.5">2000</text><text x="314" y="794.3">0</text></g>
<g stroke="#333" stroke-width="0.8">
<path d="M319,793 V797 M352.4,793 V797 M385.8,793 V797 M419.3,793 V797 M452.7,793 V797 M486.1,793 V797 M519.5,793 V797 M553,793 V797"/>
<path d="M327.4,793 V795 M335.7,793 V795 M344.1,793 V795 M360.8,793 V795 M369.1,793 V795 M377.5,793 V795 M394.2,793 V795 M402.6,793 V795 M410.9,793 V795 M427.6,793 V795 M436,793 V795 M444.3,793 V795 M461,793 V795 M469.4,793 V795 M477.8,793 V795 M494.5,793 V795 M502.8,793 V795 M511.2,793 V795 M527.9,793 V795 M536.2,793 V795 M544.6,793 V795"/>
</g>
<g class="lab" style="font-size:6.5px"><text x="319" y="807">6.4</text><text x="352.4" y="807">6.6</text><text x="385.8" y="807">6.8</text><text x="419.3" y="807">7.0</text><text x="452.7" y="807">7.2</text><text x="486.1" y="807">7.4</text><text x="519.5" y="807">7.6</text><text x="553" y="807">7.8</text></g>
<text x="435" y="819" class="lab" font-size="7">Minutes</text>
<text transform="translate(290,735) rotate(-90)" class="lab" font-size="6.5">Absorbance (mAU)</text>
<text x="323" y="686" class="b" font-size="7">KynA</text>
<polyline fill="none" stroke="#6e6e6e" stroke-width="1" points="319,791.5 444.3,791.5 447.7,790.9 451,785.7 452.7,777.5 454.4,762.7 456,741.1 457.7,716.3 459.4,696 461,688 462.7,691.2 464.4,700.2 466,713.4 469.4,744.1 472.7,769.1 476.1,783.2 479.4,789.1 486.1,791.5 553,791.5"/>
<polyline fill="none" stroke="#ff33ff" stroke-width="1" points="319,791 326,790.3 331,789.8 337,789.6 343,790.3 350,791.2 444.3,791.5 447.7,791.1 451,787.4 452.7,781.6 454.4,771.1 456,755.8 457.7,738.3 459.4,723.9 461,718.2 462.7,720.5 464.4,726.9 466,736.2 469.4,757.9 472.7,775.6 476.1,785.6 479.4,789.8 486.1,791.5 553,791.5"/>
<polyline fill="none" stroke="#4da6ff" stroke-width="1" points="319,791.2 325,790.8 332,791.3 446,791.5 451,790.6 455,789 458,787.4 461,786.6 464,787 467,787.8 472,789.6 479,791 490,791.5 553,791.5"/>
<g stroke-width="1.8"><line x1="497" y1="683" x2="503" y2="683" stroke="#6e6e6e"/><line x1="497" y1="693" x2="503" y2="693" stroke="#ff33ff"/><line x1="497" y1="702" x2="503" y2="702" stroke="#4da6ff"/></g>
<g class="b" font-size="6.5"><text x="513" y="685.5">Standard</text><text x="513" y="695.5">I3P + H<tspan font-size="4.5" dy="1.5">2</tspan><tspan dy="-1.5">O</tspan><tspan font-size="4.5" dy="1.5">2</tspan></text><text x="513" y="704.5">I3P</text></g>
</g>
</svg>
</body></html>
